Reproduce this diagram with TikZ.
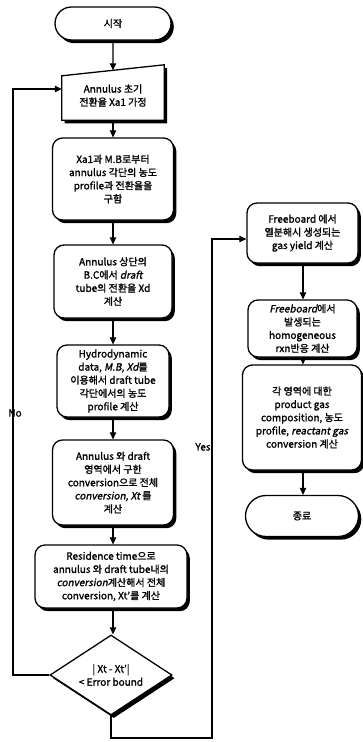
\documentclass[tikz,border=0pt]{standalone}
\usepackage{fontspec}
\setmainfont{Noto Sans CJK KR}[FakeBold=1.5,ItalicFont={Noto Sans CJK KR},ItalicFeatures={FakeSlant=0.2,FakeBold=1.5}]
\usetikzlibrary{shapes.misc,shapes.geometric,shadows,arrows.meta,calc}
\begin{document}
\begin{tikzpicture}[x=1pt,y=-1pt,
  shd/.style={drop shadow={shadow xshift=2.8pt,shadow yshift=-3.2pt,fill=black,opacity=1}},
  box/.style={draw,line width=1.3pt,rounded corners=10pt,fill=white,shd,align=center,
    inner sep=0pt,font=\fontsize{10}{13.2}\selectfont},
  term/.style={draw,line width=1.3pt,rounded rectangle,fill=white,shd,align=center,
    inner sep=0pt,font=\fontsize{10}{13.2}\selectfont},
  dec/.style={draw,line width=1.3pt,diamond,aspect=1.5,fill=white,shd,align=center,
    inner sep=0pt,font=\fontsize{10}{13.2}\selectfont},
  txt/.style={align=center,inner sep=0pt,font=\fontsize{10}{13.2}\selectfont},
  flow/.style={draw,line width=1.1pt,-{Triangle[length=7pt,width=6.5pt]}}]
\useasboundingbox (0,0) rectangle (363,742);

% left column
\node[term,minimum width=116pt,minimum height=33pt] (start) at (113,23.5) {시작};

\node[minimum width=102pt,minimum height=55pt,inner sep=0pt] (b1) at (113,92.5) {};
\path[draw,line width=1.3pt,fill=white,shd]
  (b1.south west) -- (b1.south east) -- (b1.north east) -- ($(b1.north west)+(0,11)$) -- cycle;
\node[txt] (b1t) at ($(b1.center)+(0,3)$) {Annulus 초기\\전환율 Xa1 가정};
\coordinate (b1in) at ($(b1.north)+(0,5.5)$);

\node[box,minimum width=121pt,minimum height=82pt] (b2) at (113,179)
  {Xa1과 M.B로부터\\annulus 각단의 농도\\profile과 전환율을\\구함};
\node[box,minimum width=118pt,minimum height=73pt] (b3) at (113,281.5)
  {Annulus 상단의\\B.C에서 \textit{draft}\\tube의 전환율 Xd\\계산};
\node[box,minimum width=112pt,minimum height=72pt] (b4) at (113,381)
  {Hydrodynamic\\data, \textit{M.B}, \textit{Xd}를\\이용해서 draft tube\\각단에서의 농도\\profile 계산};
\node[box,minimum width=121pt,minimum height=85pt] (b5) at (113,482.5)
  {Annulus 와 draft\\영역에서 구한\\conversion으로 전체\\\textit{conversion, Xt} 를\\계산};
\node[box,minimum width=152pt,minimum height=63pt] (b6) at (111,576.5)
  {Residence time으로\\annulus 와 draft tube내의\\\textit{conversion}계산해서 전체\\conversion, Xt'를 계산};
\node[dec,minimum width=122pt,minimum height=80pt] (d) at (111,675)
  {| Xt - Xt'|\\< Error bound};

% right column
\node[box,minimum width=111pt,minimum height=60pt] (b7) at (302.5,233)
  {Freeboard 에서\\열분해시 생성되는\\gas yield 계산};
\node[box,minimum width=109pt,minimum height=57pt] (b8) at (302.5,328.5)
  {\textit{Freeboard}에서\\발생되는\\homogeneous\\rxn반응 계산};
\node[box,minimum width=119pt,minimum height=105pt] (b9) at (302,417.5)
  {각 영역에 대한\\product gas\\composition, 농도\\profile, \textit{reactant gas}\\conversion 계산};
\node[term,minimum width=113pt,minimum height=41pt] (end) at (302,516) {종료};

% connectors
\draw[flow] (start) -- (b1in);
\draw[flow] (b1.south) -- (b2);
\draw[flow] (b2) -- (b3);
\draw[flow] (b3) -- (b4);
\draw[flow] (b4) -- (b5);
\draw[flow] (b5) -- (b6.north -| b5.south);
\draw[flow] (b6.south -| b5.south) -- (d.north -| b5.south);

\coordinate (nl) at (13,675);
\coordinate (nt) at (13,89);
\draw[flow] (d.west) -- (nl) -- (nt) -- (nt -| b1.west);
\node[txt] (no) at (15,413) {No};

\coordinate (yb) at (111,738);
\coordinate (yr) at (212,738);
\coordinate (yt) at (212,239);
\draw[flow] (d.south) -- (yb) -- (yr) -- (yt) -- (yt -| b7.west);
\node[txt] (yes) at (203,447) {Yes};

\draw[flow] (b7.south -| 303,0) -- (b8.north -| 303,0);
\draw[flow] (b8.south -| 303,0) -- (b9.north -| 303,0);
\draw[flow] (b9.south -| 303,0) -- (end.north -| 303,0);
\end{tikzpicture}
\end{document}
